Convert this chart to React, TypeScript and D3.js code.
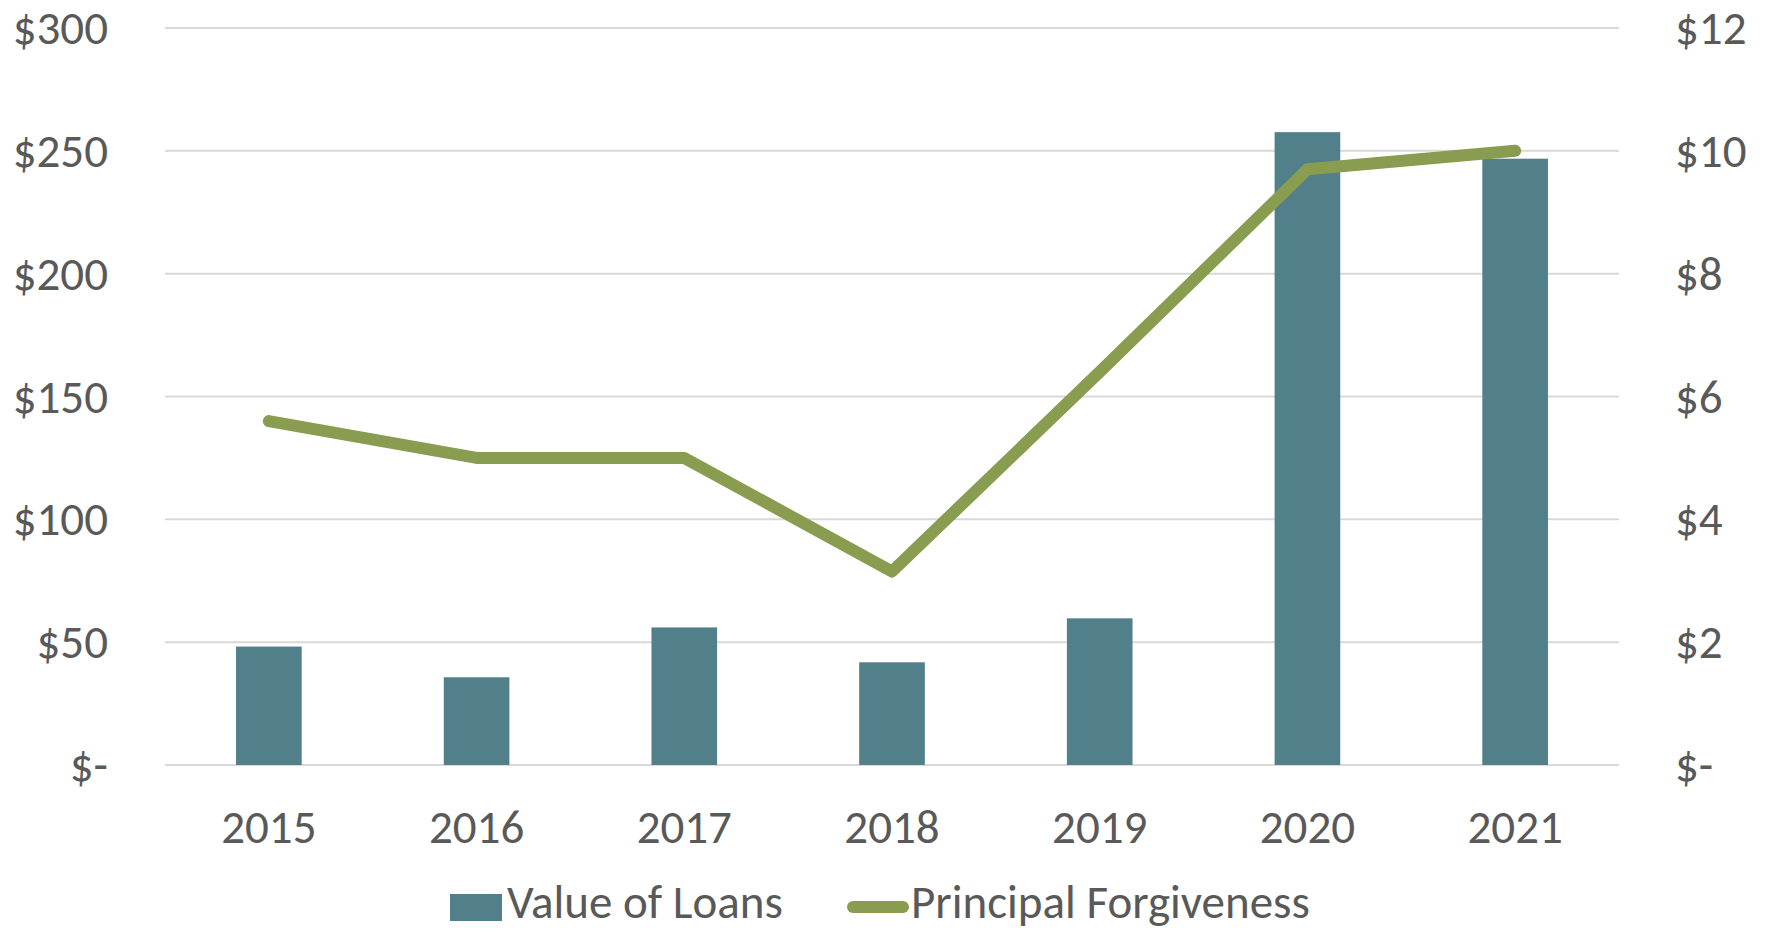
import React from "react";
import * as d3 from "d3";

const years = ["2015", "2016", "2017", "2018", "2019", "2020", "2021"];
const loanValues = [48.2, 35.7, 56.0, 41.8, 59.7, 257.6, 246.8];
const forgivenessValues = [5.6, 5.0, 5.0, 3.15, 6.4, 9.7, 10.0];
const leftTicks = [0, 50, 100, 150, 200, 250, 300];
const rightTicks = [0, 2, 4, 6, 8, 10, 12];
const seriesNames = ["Value of Loans", "Principal Forgiveness"];

const W = 1769;
const H = 932;
const FONT = "Carlito, Calibri, Lato, 'Open Sans', sans-serif";
const TEXT = "#595959";
const BAR = "#517F8A";
const LINE = "#899C4F";
const GRID = "#D9D9D9";
const FS = 47;

const fmt = (v: number) => (v === 0 ? "$-" : `$${v}`);

export default function App() {
  const plotLeft = 165;
  const plotRight = 1619;
  const plotTop = 28;
  const plotBottom = 765;

  const p = 0.684;
  const x = d3
    .scaleBand<string>()
    .domain(years)
    .range([plotLeft, plotRight])
    .paddingInner(p)
    .paddingOuter(p / 2);
  const yL = d3.scaleLinear().domain([0, 300]).range([plotBottom, plotTop]);
  const yR = d3.scaleLinear().domain([0, 12]).range([plotBottom, plotTop]);

  const cx = (y: string) => (x(y) as number) + x.bandwidth() / 2;
  const line = d3
    .line<number>()
    .x((_, i) => cx(years[i]))
    .y((d) => yR(d));

  return (
    <svg
      width={W}
      height={H}
      style={{ position: "absolute", left: 0, top: 0, background: "#fff" }}
      fontFamily={FONT}
    >
      <rect x={0} y={0} width={W} height={H} fill="#fff" />
      {leftTicks.map((t) => (
        <line
          key={"g" + t}
          x1={plotLeft}
          x2={plotRight}
          y1={yL(t)}
          y2={yL(t)}
          stroke={GRID}
          strokeWidth={2}
        />
      ))}
      {leftTicks.map((t) => (
        <text
          key={"l" + t}
          x={108}
          y={yL(t) + 16}
          textAnchor="end"
          fontSize={FS}
          fill={TEXT}
        >
          {fmt(t)}
        </text>
      ))}
      {rightTicks.map((t) => (
        <text
          key={"r" + t}
          x={1675}
          y={yR(t) + 16}
          textAnchor="start"
          fontSize={FS}
          fill={TEXT}
        >
          {fmt(t)}
        </text>
      ))}
      {years.map((yr, i) => (
        <rect
          key={"b" + yr}
          x={x(yr)}
          y={yL(loanValues[i])}
          width={x.bandwidth()}
          height={plotBottom - yL(loanValues[i])}
          fill={BAR}
        />
      ))}
      <path
        d={line(forgivenessValues) || ""}
        fill="none"
        stroke={LINE}
        strokeWidth={12}
        strokeLinecap="round"
        strokeLinejoin="round"
      />
      {years.map((yr) => (
        <text
          key={"x" + yr}
          x={cx(yr)}
          y={843}
          textAnchor="middle"
          fontSize={FS}
          fill={TEXT}
        >
          {yr}
        </text>
      ))}
      <g>
        <rect x={450} y={894} width={52} height={27} fill={BAR} />
        <text x={507} y={918} fontSize={FS} fill={TEXT}>
          {seriesNames[0]}
        </text>
        <line
          x1={853}
          x2={903}
          y1={907}
          y2={907}
          stroke={LINE}
          strokeWidth={12}
          strokeLinecap="round"
        />
        <text x={911} y={918} fontSize={FS} fill={TEXT}>
          {seriesNames[1]}
        </text>
      </g>
    </svg>
  );
}
